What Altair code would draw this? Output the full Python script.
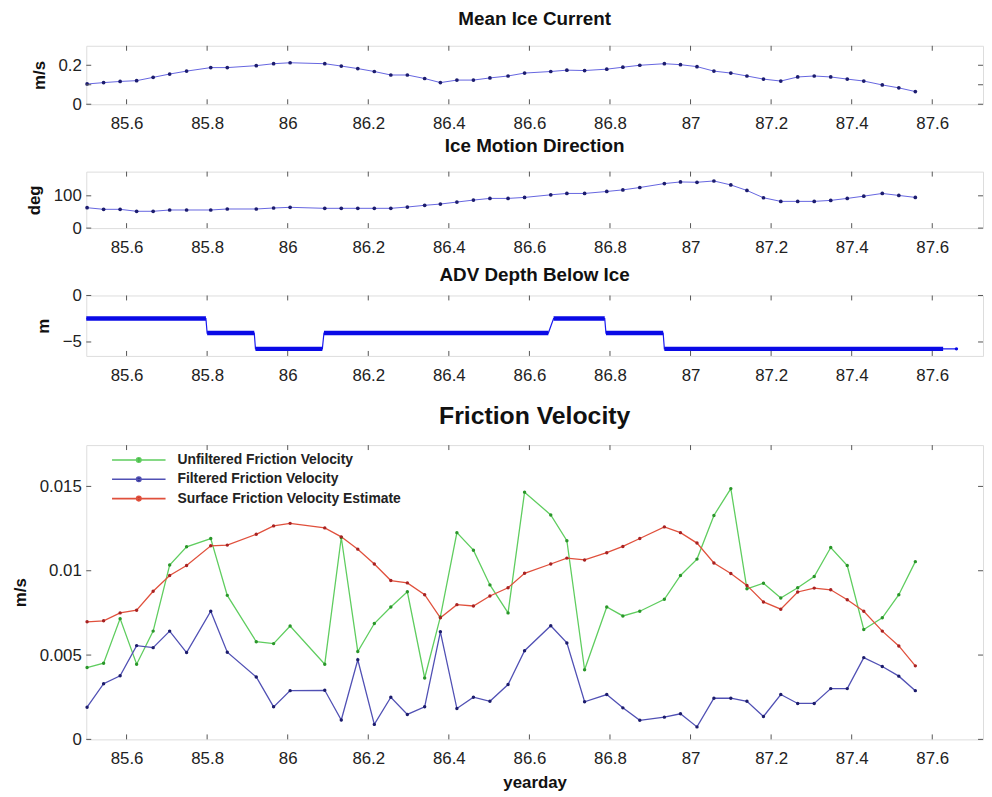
import altair as alt
import pandas as pd

# ---------------- data ----------------
yearday = [85.502, 85.543, 85.584, 85.625, 85.666, 85.707, 85.749, 85.809, 85.850, 85.922,
           85.965, 86.006, 86.092, 86.133, 86.174, 86.215, 86.256, 86.297, 86.340, 86.379,
           86.420, 86.461, 86.502, 86.547, 86.588, 86.653, 86.693, 86.737, 86.792, 86.832,
           86.874, 86.935, 86.975, 87.016, 87.058, 87.100, 87.140, 87.181, 87.224, 87.266,
           87.307, 87.348, 87.389, 87.430, 87.476, 87.517, 87.558]

ice_speed = [0.104, 0.111, 0.117, 0.121, 0.138, 0.155, 0.170, 0.188, 0.188, 0.198,
             0.208, 0.213, 0.208, 0.196, 0.183, 0.168, 0.150, 0.150, 0.132, 0.111,
             0.124, 0.124, 0.135, 0.145, 0.160, 0.168, 0.175, 0.173, 0.180, 0.190,
             0.200, 0.208, 0.203, 0.193, 0.170, 0.160, 0.145, 0.129, 0.119, 0.140,
             0.145, 0.140, 0.129, 0.119, 0.099, 0.084, 0.065]

ice_dir = [63.2, 58.2, 58.2, 52.1, 52.1, 56.1, 56.1, 56.1, 59.2, 59.2,
           62.3, 64.4, 61.3, 61.3, 61.3, 61.3, 61.3, 65.3, 70.6, 74.5,
           80.7, 86.8, 92.0, 92.0, 95.1, 103.1, 107.4, 107.4, 113.5, 118.4,
           125.8, 138.0, 143.0, 142.0, 146.0, 133.7, 116.6, 94.0, 82.8, 82.8,
           82.8, 85.9, 92.0, 99.0, 107.4, 101.2, 95.1]

ustar_unfiltered = [0.00426, 0.00452, 0.00716, 0.00446, 0.00642, 0.01034, 0.01142, 0.01191, 0.00854, 0.00579,
                    0.00568, 0.00672, 0.00446, 0.01197, 0.00521, 0.00687, 0.00785, 0.00875, 0.00364, 0.00726,
                    0.01226, 0.01122, 0.00916, 0.00750, 0.01466, 0.01331, 0.01178, 0.00413, 0.00785, 0.00732,
                    0.00760, 0.00831, 0.00972, 0.01069, 0.01328, 0.01487, 0.00893, 0.00926, 0.00838, 0.00899,
                    0.00966, 0.01138, 0.01031, 0.00652, 0.00721, 0.00858, 0.01054]

ustar_filtered = [0.00191, 0.00330, 0.00377, 0.00556, 0.00544, 0.00642, 0.00515, 0.00760, 0.00517, 0.00370,
                  0.00193, 0.00289, 0.00291, 0.00115, 0.00472, 0.00089, 0.00250, 0.00148, 0.00193, 0.00638,
                  0.00183, 0.00250, 0.00226, 0.00325, 0.00526, 0.00674, 0.00572, 0.00223, 0.00266, 0.00187,
                  0.00113, 0.00132, 0.00152, 0.00074, 0.00244, 0.00244, 0.00226, 0.00136, 0.00266, 0.00213,
                  0.00213, 0.00301, 0.00301, 0.00485, 0.00432, 0.00375, 0.00289]

ustar_surface = [0.00697, 0.00703, 0.00750, 0.00766, 0.00878, 0.00972, 0.01031, 0.01148, 0.01152, 0.01216,
                 0.01266, 0.01281, 0.01254, 0.01201, 0.01128, 0.01040, 0.00942, 0.00928, 0.00858, 0.00721,
                 0.00799, 0.00791, 0.00850, 0.00899, 0.00985, 0.01040, 0.01075, 0.01064, 0.01107, 0.01144,
                 0.01191, 0.01260, 0.01226, 0.01164, 0.01046, 0.00984, 0.00913, 0.00815, 0.00772, 0.00874,
                 0.00897, 0.00887, 0.00828, 0.00760, 0.00642, 0.00554, 0.00436]

adv_start = [85.500, 85.800, 85.920, 86.090, 86.660, 86.790, 86.935]
adv_end = [85.797, 85.917, 86.086, 86.647, 86.787, 86.932, 87.627]
adv_depth = [-2.48, -4.04, -5.74, -4.04, -2.48, -4.04, -5.74]
adv_last_day = [87.660]
adv_last_depth = [-5.74]

series_names = ["Unfiltered Friction Velocity", "Filtered Friction Velocity",
                "Surface Friction Velocity Estimate"]
line_colors = ["#5fcd5f", "#5050b4", "#e0503c"]
dot_colors = ["#2a962a", "#1c1c6c", "#a82222"]

x_ticks = [85.6, 85.8, 86.0, 86.2, 86.4, 86.6, 86.8, 87.0, 87.2, 87.4, 87.6]
speed_ticks = [0, 0.1, 0.2]
dir_ticks = [0, 100]
depth_ticks = [-5, 0]
ustar_ticks = [0, 0.005, 0.01, 0.015]

# ---------------- styling ----------------
W = 905
FONT = "Liberation Sans"
XDOM = [85.5, 87.726]
LINE_BLUE = "#6464e0"
DOT_BLUE = "#1c1c6e"
TICK_COLOR = "#555555"
LABEL_SIZE = 17

xscale = alt.Scale(domain=XDOM, nice=False, zero=False)


def x_axis(title=None):
    kw = dict(values=x_ticks, format="~r", labelPadding=11.5, ticks=False, domain=False,
              grid=False, labelFontSize=LABEL_SIZE, labelFont=FONT, labelColor="#222",
              labelOverlap=False)
    if title:
        kw.update(title=title, titleFontSize=17, titleFont=FONT, titleFontWeight="bold",
                  titlePadding=8.5, titleColor="#111")
    else:
        kw.update(title=None)
    return alt.Axis(**kw)


def y_axis(title, vals):
    return alt.Axis(values=vals, format="~r", labelPadding=5, ticks=False, domain=False,
                    grid=False, labelFontSize=LABEL_SIZE, labelFont=FONT, labelColor="#222",
                    labelOverlap=False,
                    title=title, titleFontSize=17, titleFont=FONT, titleFontWeight="bold",
                    titlePadding=10, titleColor="#111")


def tick_layers(yfield, yscale, yvals, h):
    xt = pd.DataFrame({"day": x_ticks})
    yt = pd.DataFrame({yfield: yvals})
    base_x = alt.Chart(xt).mark_rule(color=TICK_COLOR, strokeWidth=1)
    top = base_x.encode(x=alt.X("day:Q", scale=xscale), y=alt.value(0), y2=alt.value(5))
    bot = base_x.encode(x=alt.X("day:Q", scale=xscale), y=alt.value(h), y2=alt.value(h - 5))
    base_y = alt.Chart(yt).mark_rule(color=TICK_COLOR, strokeWidth=1)
    left = base_y.encode(y=alt.Y(f"{yfield}:Q", scale=yscale), x=alt.value(0), x2=alt.value(5))
    right = base_y.encode(y=alt.Y(f"{yfield}:Q", scale=yscale), x=alt.value(W), x2=alt.value(W - 5))
    return [top, bot, left, right]


def spacer(h, extent):
    # invisible layout spacer that reserves room below a panel
    return alt.Chart(pd.DataFrame({"k": [0]})).mark_rule(strokeOpacity=0, strokeWidth=1).encode(
        x=alt.value(0), x2=alt.value(1), y=alt.value(h + extent - 1), y2=alt.value(h + extent))


def title(text, offset, size=19):
    return alt.TitleParams(text=text, fontSize=size, font=FONT, fontWeight="bold",
                           color="#111", offset=offset, anchor="middle")


# ---- panel 1: mean ice current ----
H1 = 59
s1 = alt.Scale(domain=[0, 0.3], nice=False)
df1 = pd.DataFrame({"day": yearday, "speed": ice_speed})
l1 = alt.Chart(df1).mark_line(color=LINE_BLUE, strokeWidth=1).encode(
    x=alt.X("day:Q", scale=xscale, axis=x_axis()),
    y=alt.Y("speed:Q", scale=s1, axis=y_axis("m/s", speed_ticks)))
p1pts = alt.Chart(df1).mark_circle(color=DOT_BLUE, size=14, opacity=1).encode(
    x=alt.X("day:Q", scale=xscale), y=alt.Y("speed:Q", scale=s1))
panel1 = alt.layer(l1, p1pts, *tick_layers("speed", s1, speed_ticks, H1), spacer(H1, 32.5)).properties(
    width=W, height=H1, title=title("Mean Ice Current", 16.5))

# ---- panel 2: ice motion direction ----
H2 = 57
s2 = alt.Scale(domain=[0, 175], nice=False)
df2 = pd.DataFrame({"day": yearday, "dir": ice_dir})
l2 = alt.Chart(df2).mark_line(color=LINE_BLUE, strokeWidth=1).encode(
    x=alt.X("day:Q", scale=xscale, axis=x_axis()),
    y=alt.Y("dir:Q", scale=s2, axis=y_axis("deg", dir_ticks)))
p2pts = alt.Chart(df2).mark_circle(color=DOT_BLUE, size=14, opacity=1).encode(
    x=alt.X("day:Q", scale=xscale), y=alt.Y("dir:Q", scale=s2))
panel2 = alt.layer(l2, p2pts, *tick_layers("dir", s2, dir_ticks, H2), spacer(H2, 37.5)).properties(
    width=W, height=H2, title=title("Ice Motion Direction", 15))

# ---- panel 3: ADV depth ----
H3 = 61
s3 = alt.Scale(domain=[-6.5, 0], nice=False)
seg = pd.DataFrame({"day": adv_start, "end": adv_end, "depth": adv_depth})
path_days, path_depths = [], []
for a, b, d in zip(adv_start, adv_end, adv_depth):
    path_days += [a, b]
    path_depths += [d, d]
path_days += adv_last_day
path_depths += adv_last_depth
dpath = pd.DataFrame({"day": path_days, "depth": path_depths, "order": list(range(len(path_days)))})
thin = alt.Chart(dpath).mark_line(color="#1a1af0", strokeWidth=1.2).encode(
    x=alt.X("day:Q", scale=xscale, axis=x_axis()),
    y=alt.Y("depth:Q", scale=s3, axis=y_axis("m", depth_ticks)),
    order="order:Q")
thick = alt.Chart(seg).mark_rule(color="#0a0ae6", strokeWidth=4.5).encode(
    x=alt.X("day:Q", scale=xscale), x2="end:Q", y=alt.Y("depth:Q", scale=s3))
lastpt = alt.Chart(pd.DataFrame({"day": adv_last_day, "depth": adv_last_depth})).mark_circle(
    color="#0a0ae6", size=12, opacity=1).encode(
    x=alt.X("day:Q", scale=xscale), y=alt.Y("depth:Q", scale=s3))
panel3 = alt.layer(thin, thick, lastpt, *tick_layers("depth", s3, depth_ticks, H3),
                   spacer(H3, 47.5)).properties(
    width=W, height=H3, title=title("ADV Depth Below Ice", 1.5))

# ---- panel 4: friction velocity ----
H4 = 297
s4 = alt.Scale(domain=[0, 0.01745], nice=False)
rows = []
for name, vals in zip(series_names, [ustar_unfiltered, ustar_filtered, ustar_surface]):
    for d, v in zip(yearday, vals):
        rows.append({"day": d, "u": v, "series": name})
df4 = pd.DataFrame(rows)

legend_path = "M-1,0H5M1.75,0A0.25,0.25,0,1,0,2.25,0A0.25,0.25,0,1,0,1.75,0Z"
lines4 = alt.Chart(df4).mark_line(strokeWidth=1.3).encode(
    x=alt.X("day:Q", scale=xscale, axis=x_axis("yearday")),
    y=alt.Y("u:Q", scale=s4, axis=y_axis("m/s", ustar_ticks)),
    color=alt.Color("series:N", scale=alt.Scale(domain=series_names, range=line_colors),
                    legend=alt.Legend(title=None, orient="none", legendX=25, legendY=5,
                                      symbolType=legend_path, symbolSize=324,
                                      symbolStrokeWidth=1.6, labelOffset=47, labelLimit=400,
                                      labelFont=FONT, labelFontSize=14, labelFontWeight="bold",
                                      labelColor="#222", rowPadding=2.5, padding=0)),
    detail="series:N")
pts4 = alt.Chart(df4).mark_circle(size=12, opacity=1).encode(
    x=alt.X("day:Q", scale=xscale), y=alt.Y("u:Q", scale=s4),
    fill=alt.Fill("series:N", scale=alt.Scale(domain=series_names, range=dot_colors), legend=None))
panel4 = alt.layer(lines4, pts4, *tick_layers("u", s4, ustar_ticks, H4)).properties(
    width=W, height=H4, title=title("Friction Velocity", 15.5, size=25))

chart = alt.vconcat(panel1, panel2, panel3, panel4, spacing=0).resolve_scale(
    color="independent", fill="independent"
).resolve_legend(color="independent", fill="independent").properties(
    padding={"left": 2, "top": -2.5, "right": 0, "bottom": 0}
).configure_view(stroke="#6e6e6e", strokeWidth=2).configure(background="white")

chart.save("out.html", embed_options={"renderer": "svg", "actions": False})
